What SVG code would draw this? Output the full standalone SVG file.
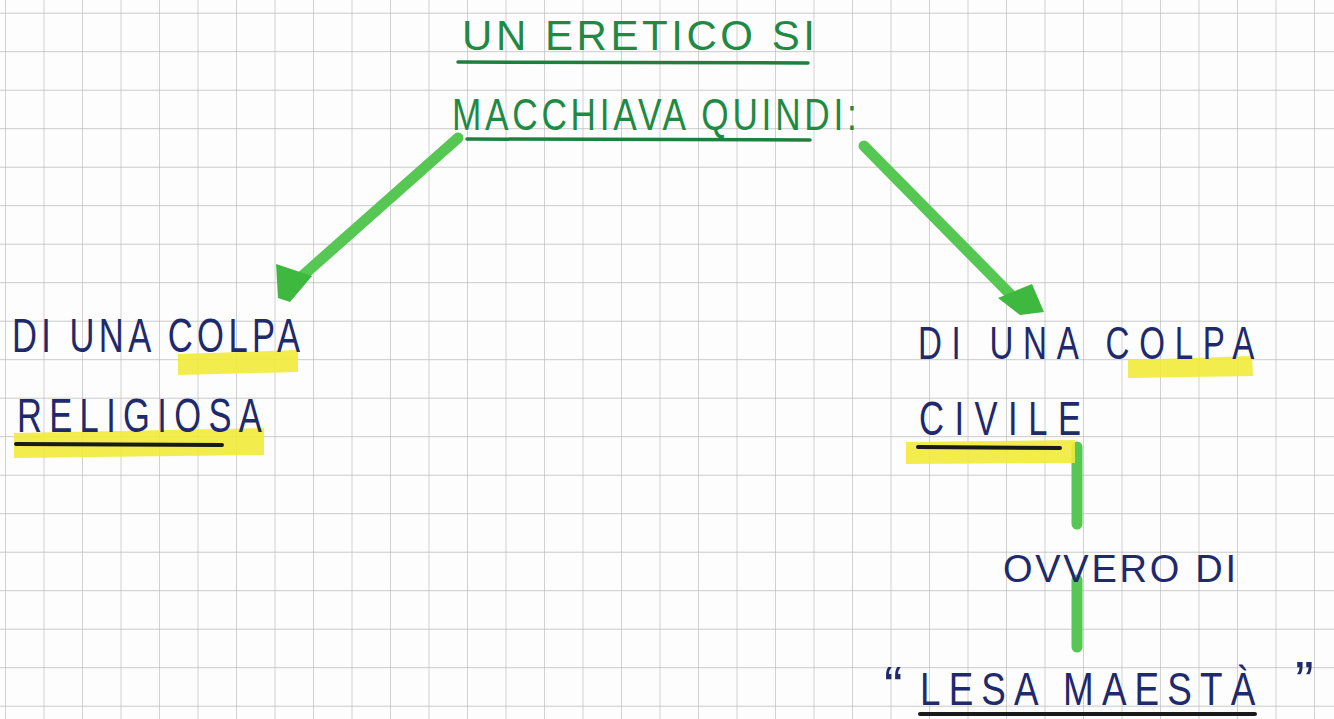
<svg xmlns="http://www.w3.org/2000/svg" width="1334" height="719" viewBox="0 0 1334 719">
<defs>
<pattern id="grid" patternUnits="userSpaceOnUse" x="5" y="12.7" width="38.5" height="38.5">
<path d="M0 0 H38.5 M0 0 V38.5" fill="none" stroke="#b9b9b9" stroke-width="1.3"/>
</pattern>
<style>
.hand{font-family:"Liberation Sans","DejaVu Sans",sans-serif;font-weight:normal}
.green{fill:#1f8a44}
.navy{fill:#1e2a6c}
.hl{fill:#f2ea3a;opacity:0.9}
.ul-g{stroke:#1f7f3e;stroke-width:3.5;stroke-linecap:round;fill:none}
.ul-k{stroke:#1a1a1a;stroke-width:4;stroke-linecap:round;fill:none}
.conn{stroke:#55c752;stroke-width:11;stroke-linecap:round;fill:none}
.head{fill:#3fb83f}
</style>
</defs>
<rect width="1334" height="719" fill="#fdfdfd"/>
<rect width="1334" height="719" fill="url(#grid)"/>

<g id="connectors">
<line class="conn" x1="458" y1="138" x2="300" y2="278"/>
<path class="head" d="M276 264 L312 276 L290 302 L278 298 Z"/>
<line class="conn" x1="864" y1="146" x2="1012" y2="296"/>
<path class="head" d="M998 298 L1032 284 L1044 312 L1020 315 Z"/>
<line class="conn" x1="1077" y1="447" x2="1077" y2="524"/>
<line class="conn" x1="1077" y1="580" x2="1077" y2="647"/>
</g>

<g id="title">
<text class="hand green" x="462" y="50" font-size="42" textLength="353" lengthAdjust="spacing">UN ERETICO SI</text>
<line class="ul-g" x1="458" y1="62" x2="808" y2="63"/>
<text class="hand green" transform="translate(452 130) scale(0.8 1)" font-size="44" textLength="506" lengthAdjust="spacing">MACCHIAVA QUINDI:</text>
<line class="ul-g" x1="467" y1="139" x2="810" y2="140"/>
</g>

<g id="left-node">
<path class="hl" d="M178 354 L298 350 L298 372 L178 375 Z"/>
<path class="hl" d="M14 433 L264 428 L264 455 L14 458 Z"/>
<text class="hand navy" transform="translate(12 352) scale(0.72 1)" font-size="48" textLength="400" lengthAdjust="spacing">DI UNA COLPA</text>
<text class="hand navy" transform="translate(17 432) scale(0.72 1)" font-size="48" textLength="340" lengthAdjust="spacing">RELIGIOSA</text>
<line class="ul-k" x1="16" y1="444" x2="222" y2="445"/>
</g>

<g id="right-node">
<path class="hl" d="M1128 360 L1252 356 L1253 376 L1128 378 Z"/>
<path class="hl" d="M906 442 L1075 440 L1075 463 L906 464 Z"/>
<text class="hand navy" transform="translate(918 359) scale(0.72 1)" font-size="46" textLength="467" lengthAdjust="spacing">DI UNA COLPA</text>
<text class="hand navy" transform="translate(919 435) scale(0.72 1)" font-size="48" textLength="225" lengthAdjust="spacing">CIVILE</text>
<line class="ul-k" x1="918" y1="447" x2="1060" y2="448"/>
</g>

<g id="ovvero-node">
<text class="hand navy" x="1003" y="582" font-size="38" textLength="233" lengthAdjust="spacing">OVVERO DI</text>
</g>

<g id="lesa-node">
<text class="hand navy" x="884" y="705" font-size="56">“</text>
<text class="hand navy" transform="translate(920 705) scale(0.8 1)" font-size="46" textLength="419" lengthAdjust="spacing">LESA MAESTÀ</text>
<text class="hand navy" x="1295" y="700" font-size="56">”</text>
<line class="ul-k" x1="920" y1="714" x2="1255" y2="714"/>
</g>
</svg>
